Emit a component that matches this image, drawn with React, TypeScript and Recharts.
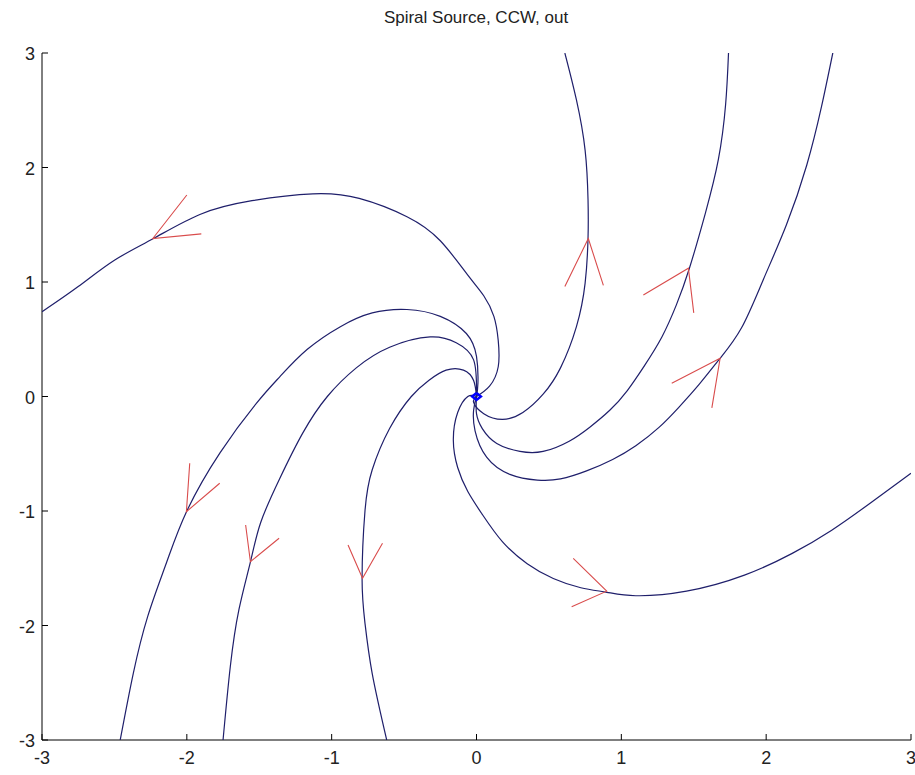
import React from 'react';
import { ScatterChart, Scatter, XAxis, YAxis } from 'recharts';

// axis ticks
const xTicks = [-3, -2, -1, 0, 1, 2, 3];
const yTicks = [-3, -2, -1, 0, 1, 2, 3];

// trajectories, origin -> outside
const curveA = [[0, 0], [0.09, 0.09], [0.15, 0.26], [0.15, 0.49], [0.12, 0.7], [0.05, 0.88], [-0.06, 1.06], [-0.25, 1.36], [-0.48, 1.57], [-0.81, 1.73], [-1.13, 1.77], [-1.55, 1.71], [-1.91, 1.59], [-2.23, 1.38], [-2.5, 1.19], [-2.75, 0.96], [-3.0, 0.74]];
const curveB = [[0, 0], [-0.02, -0.05], [0.05, -0.15], [0.18, -0.2], [0.32, -0.14], [0.46, 0.02], [0.58, 0.25], [0.69, 0.61], [0.75, 0.99], [0.77, 1.38], [0.77, 1.72], [0.75, 2.15], [0.69, 2.59], [0.61, 3.0]];
const curveC = [[0, 0], [0.0, -0.15], [0.04, -0.28], [0.14, -0.41], [0.3, -0.48], [0.46, -0.48], [0.64, -0.39], [0.78, -0.27], [0.92, -0.12], [1.04, 0.05], [1.16, 0.27], [1.28, 0.52], [1.38, 0.8], [1.47, 1.12], [1.58, 1.6], [1.67, 2.07], [1.72, 2.55], [1.74, 3.0]];
const curveD = [[0, 0], [-0.02, -0.12], [-0.01, -0.3], [0.07, -0.53], [0.23, -0.68], [0.42, -0.73], [0.58, -0.72], [0.76, -0.65], [0.94, -0.55], [1.1, -0.43], [1.26, -0.27], [1.4, -0.09], [1.54, 0.11], [1.68, 0.33], [1.83, 0.6], [1.98, 1.02], [2.14, 1.5], [2.28, 2.02], [2.38, 2.52], [2.46, 3.0]];
const curveE = [[0, 0], [-0.06, 0.0], [-0.13, -0.14], [-0.16, -0.38], [-0.13, -0.62], [-0.06, -0.83], [0.04, -1.03], [0.18, -1.27], [0.35, -1.46], [0.53, -1.59], [0.72, -1.67], [0.9, -1.71], [1.1, -1.74], [1.45, -1.7], [1.85, -1.56], [2.18, -1.37], [2.45, -1.17], [2.72, -0.93], [3.0, -0.67]];
const curveF = [[0, 0], [0.01, 0.12], [0.0, 0.35], [-0.07, 0.55], [-0.25, 0.7], [-0.48, 0.76], [-0.72, 0.73], [-0.94, 0.61], [-1.17, 0.41], [-1.36, 0.17], [-1.52, -0.06], [-1.77, -0.49], [-2.0, -1.0], [-2.14, -1.45], [-2.27, -1.92], [-2.37, -2.42], [-2.46, -3.0]];
const curveG = [[0, 0], [-0.02, 0.32], [-0.14, 0.47], [-0.32, 0.52], [-0.6, 0.43], [-0.83, 0.25], [-1.03, 0.0], [-1.2, -0.32], [-1.36, -0.72], [-1.49, -1.1], [-1.56, -1.44], [-1.64, -1.86], [-1.7, -2.36], [-1.75, -3.0]];
const curveH = [[0, 0], [-0.02, 0.14], [-0.09, 0.23], [-0.21, 0.23], [-0.33, 0.14], [-0.45, 0.0], [-0.6, -0.28], [-0.72, -0.64], [-0.77, -1.0], [-0.79, -1.59], [-0.77, -1.98], [-0.72, -2.42], [-0.62, -3.0]];
const core = [[0, 0.03], [-0.03, 0.0], [0.0, -0.03], [0.03, 0.0], [0.0, 0.03]];

// arrow heads: barb, tip, barb
const arrowA = [[-2.0, 1.76], [-2.235, 1.38], [-1.9, 1.42]];
const arrowB = [[0.61, 0.96], [0.772, 1.38], [0.876, 0.97]];
const arrowC = [[1.152, 0.886], [1.463, 1.12], [1.5, 0.73]];
const arrowD = [[1.348, 0.115], [1.682, 0.334], [1.625, -0.1]];
const arrowE = [[0.668, -1.413], [0.899, -1.7], [0.657, -1.836]];
const arrowF = [[-1.98, -0.583], [-2.003, -1.006], [-1.773, -0.758]];
const arrowG = [[-1.594, -1.122], [-1.561, -1.443], [-1.363, -1.238]];
const arrowH = [[-0.887, -1.297], [-0.787, -1.588], [-0.649, -1.282]];

const curves = [curveA, curveB, curveC, curveD, curveE, curveF, curveG, curveH];
const arrows = [arrowA, arrowB, arrowC, arrowD, arrowE, arrowF, arrowG, arrowH];

const toPts = (arr: number[][]) => arr.map(([x, y]) => ({ x, y }));

const BLUE = '#1f1f6b';
const RED = '#d94c4c';
const FONT = '"Liberation Sans", Arial, sans-serif';

const noDot = () => <g />;

const XTick = (props: any) => {
  const { x, y, payload } = props;
  return (
    <g>
      <line x1={x} y1={y} x2={x} y2={y - 6} stroke="#000" strokeWidth={1} />
      <text x={x} y={y + 24} textAnchor="middle" fontSize={18} fontFamily={FONT} fill="#222">
        {payload.value}
      </text>
    </g>
  );
};

const YTick = (props: any) => {
  const { x, y, payload } = props;
  return (
    <g>
      <line x1={x} y1={y} x2={x + 6} y2={y} stroke="#000" strokeWidth={1} />
      <text x={x - 7} y={y + 7} textAnchor="end" fontSize={18} fontFamily={FONT} fill="#222">
        {payload.value}
      </text>
    </g>
  );
};

export default function App() {
  return (
    <div style={{ position: 'absolute', left: 0, top: 0, width: 915, height: 775, background: '#fff' }}>
      <div
        style={{
          position: 'absolute',
          left: 0,
          top: 8,
          width: 952,
          textAlign: 'center',
          fontFamily: FONT,
          fontSize: 17,
          color: '#222',
        }}
      >
        Spiral Source, CCW, out
      </div>
      <ScatterChart width={915} height={775} margin={{ top: 53, right: 4, bottom: 0, left: 0 }}>
        <XAxis
          type="number"
          dataKey="x"
          domain={[-3, 3]}
          ticks={xTicks}
          height={35}
          tickSize={0}
          tickMargin={0}
          tickLine={false}
          axisLine={{ stroke: '#000', strokeWidth: 1 }}
          tick={<XTick />}
          allowDataOverflow
        />
        <YAxis
          type="number"
          dataKey="y"
          domain={[-3, 3]}
          ticks={yTicks}
          width={42}
          tickSize={0}
          tickMargin={0}
          tickLine={false}
          axisLine={{ stroke: '#000', strokeWidth: 1 }}
          tick={<YTick />}
          allowDataOverflow
        />
        {curves.map((c, i) => (
          <Scatter
            key={'c' + i}
            data={toPts(c)}
            line={{ stroke: BLUE, strokeWidth: 1.2 }}
            lineJointType="natural"
            shape={noDot}
            isAnimationActive={false}
          />
        ))}
        <Scatter
          data={toPts(core)}
          line={{ stroke: '#0000ff', strokeWidth: 2.5 }}
          shape={noDot}
          isAnimationActive={false}
        />
        {arrows.map((a, i) => (
          <Scatter
            key={'a' + i}
            data={toPts(a)}
            line={{ stroke: RED, strokeWidth: 1.1 }}
            shape={noDot}
            isAnimationActive={false}
          />
        ))}
      </ScatterChart>
    </div>
  );
}
